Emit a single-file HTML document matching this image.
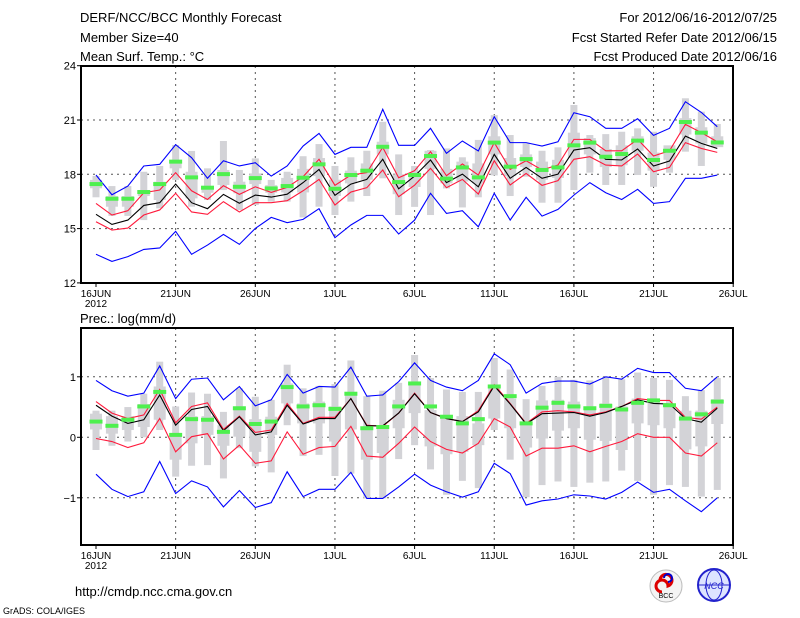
<!DOCTYPE html>
<html><head><meta charset="utf-8"><style>
body{margin:0;background:#fff;width:800px;height:618px;overflow:hidden}
svg{display:block}
text{font-family:"Liberation Sans",sans-serif;fill:#000}
</style></head><body>
<svg id="c" width="800" height="618">
<g>
<text x="80" y="22" font-size="13">DERF/NCC/BCC Monthly Forecast</text>
<text x="80" y="42" font-size="13">Member Size=40</text>
<text x="80" y="61" font-size="13">Mean Surf. Temp.: °C</text>
<text x="777" y="22" font-size="13" text-anchor="end">For 2012/06/16-2012/07/25</text>
<text x="777" y="42" font-size="13" text-anchor="end">Fcst Started Refer Date 2012/06/15</text>
<text x="777" y="61" font-size="13" text-anchor="end">Fcst Produced Date 2012/06/16</text>
</g>
<text x="80" y="323" font-size="13">Prec.: log(mm/d)</text>
<text x="75" y="596" font-size="13">http://cmdp.ncc.cma.gov.cn</text>
<text x="3" y="614" font-size="9">GrADS: COLA/IGES</text>
<g><circle cx="666" cy="586" r="16" fill="#f4f4f4" stroke="#bbb"/><path d="M660 580 a6 6 0 1 1 8 6 a6 6 0 1 0 -6 6" fill="none" stroke="#d00" stroke-width="3"/><path d="M664 578 a4 4 0 1 1 4 4" fill="none" stroke="#00c" stroke-width="2"/><text x="666" y="598" font-size="7" text-anchor="middle">BCC</text></g>
<g><circle cx="714" cy="585" r="16" fill="#dde4ff" stroke="#22c" stroke-width="2"/><ellipse cx="714" cy="585" rx="8" ry="15" fill="none" stroke="#22c"/><line x1="698" y1="585" x2="730" y2="585" stroke="#22c"/><text x="714" y="589" font-size="9" text-anchor="middle" fill="#22c" style="fill:#22c;font-style:italic">NCC</text></g>
</svg>
<script>
// ---- temperature data (days 0..39 from 16JUN) ----
const days = Array.from({length:40},(_,i)=>i);
const xTickLabels = ["16JUN","21JUN","26JUN","1JUL","6JUL","11JUL","16JUL","21JUL","26JUL"];
const tTicks = [12,15,18,21,24];
const pTicks = [-1,0,1];
const tMean = [15.79,15.23,15.47,16.28,16.43,17.46,16.43,16.1,16.89,16.4,16.85,16.74,16.9,17.54,18.27,16.84,17.46,17.72,18.83,17.2,17.9,18.79,17.54,18.01,17.31,19.1,17.78,18.38,17.78,18.01,19.34,19.47,18.83,18.79,19.4,18.46,18.73,20.11,19.71,19.43];
const tRedTop = [16.39,15.75,15.99,16.98,17.13,18.09,17.09,16.61,17.37,16.89,17.31,17.0,17.28,17.87,18.83,17.39,17.96,18.09,19.49,17.81,18.2,19.25,17.92,18.57,17.96,19.75,18.27,18.75,18.24,18.51,19.93,19.93,19.3,19.3,19.93,19.01,19.3,20.76,20.3,19.8];
const tRedBot = [15.38,14.92,15.03,15.75,16.03,16.95,15.92,15.79,16.49,15.92,16.43,16.43,16.54,17.09,17.72,16.3,17.02,17.26,18.24,16.76,17.4,18.33,17.26,17.72,16.91,18.75,17.41,18.05,17.39,17.65,18.83,18.97,18.51,18.46,19.12,18.14,18.38,19.75,19.43,19.21];
const tBlueTop = [17.96,16.87,17.35,18.46,18.55,19.64,18.92,17.78,18.75,18.46,18.64,17.9,18.46,19.56,20.26,19.1,19.49,19.49,21.59,19.6,19.6,20.54,19.16,19.84,19.29,21.18,19.75,19.75,19.56,19.8,21.4,21.18,20.54,20.54,21.07,20.15,20.54,22.01,21.42,20.63];
const tBlueBot = [13.58,13.19,13.45,13.85,13.93,14.85,13.58,14.09,14.68,14.13,15.01,15.62,15.33,15.51,16.1,14.5,15.2,15.73,15.73,14.7,15.47,16.95,15.84,15.99,15.1,16.95,15.47,16.73,15.69,16.06,16.85,17.54,16.98,16.61,17.17,16.39,16.49,17.78,17.78,17.96];
const tObs = [17.46,16.65,16.65,17.02,17.46,18.7,17.83,17.26,18.01,17.31,17.79,17.22,17.35,17.81,18.55,17.2,17.96,18.2,19.52,17.57,17.96,19.01,17.76,18.38,17.83,19.75,18.42,18.84,18.24,18.38,19.6,19.75,18.97,19.12,19.86,18.79,19.3,20.89,20.3,19.76];
const tMax = [17.91,17.35,17.35,18.14,18.46,19.62,19.29,18.33,19.84,18.24,18.88,17.69,18.14,19.0,19.67,18.46,18.94,19.3,20.9,19.1,18.46,19.34,19.43,18.94,19.9,21.27,20.17,19.71,19.3,19.49,21.83,20.17,20.22,20.35,20.54,20.35,19.52,22.2,21.46,20.78];
const tMin = [16.73,15.7,15.7,15.47,16.12,17.69,16.21,16.58,17.13,16.03,16.3,16.49,16.49,15.62,16.21,15.75,16.49,16.8,17.78,15.75,16.2,15.75,17.22,16.17,16.73,17.94,16.8,17.87,16.43,16.43,17.13,18.09,17.41,17.41,17.96,17.31,18.09,19.25,18.46,19.86];
const tQ3 = [17.69,16.8,16.8,17.13,17.59,18.79,18.14,17.31,18.24,17.59,18.05,17.4,17.8,18.3,18.9,17.7,18.2,18.6,19.8,18.0,18.1,19.3,18.3,18.7,18.6,20.1,18.9,19.1,18.7,18.8,20.3,20.0,19.4,19.6,20.1,19.2,19.6,21.1,20.6,20.1];
const tQ1 = [17.23,16.21,16.21,16.8,16.58,18.33,16.67,16.98,17.41,16.95,17.46,16.98,17.0,17.0,17.9,16.8,17.5,17.7,19.1,16.9,17.3,18.3,17.5,17.6,17.5,19.1,17.9,18.4,17.7,17.8,18.9,19.1,18.4,18.5,19.3,18.2,18.8,20.2,19.7,19.5];
// ---- precipitation data ----
const pMean = [0.53,0.35,0.23,0.29,0.70,0.20,0.46,0.51,0.11,0.34,0.04,0.09,0.53,0.22,0.31,0.31,0.64,0.19,0.19,0.40,0.72,0.41,0.31,0.26,0.42,0.85,0.55,0.22,0.39,0.40,0.41,0.35,0.41,0.51,0.62,0.56,0.55,0.31,0.25,0.48];
const pRedTop = [0.59,0.40,0.31,0.37,0.79,0.24,0.51,0.57,0.13,0.35,0.08,0.12,0.56,0.23,0.33,0.33,0.64,0.20,0.18,0.40,0.73,0.41,0.31,0.26,0.44,0.87,0.56,0.23,0.42,0.44,0.42,0.37,0.42,0.51,0.64,0.61,0.61,0.33,0.30,0.50];
const pRedBot = [-0.02,-0.07,-0.17,-0.09,0.31,-0.24,0.01,0.06,-0.36,-0.13,-0.43,-0.39,0.09,-0.28,-0.17,-0.15,0.18,-0.31,-0.33,-0.1,0.17,-0.07,-0.20,-0.26,-0.10,0.31,0.17,-0.31,-0.18,-0.18,-0.14,-0.24,-0.15,-0.07,0.06,0.0,0.0,-0.26,-0.31,-0.09];
const pBlueTop = [0.94,0.77,0.68,0.73,1.18,0.64,0.96,0.98,0.62,0.84,0.52,0.62,1.04,0.73,0.84,0.83,1.16,0.68,0.70,0.92,1.23,0.94,0.83,0.77,0.94,1.38,1.20,0.73,0.89,0.93,0.93,0.88,1.0,0.96,1.14,1.07,1.07,0.81,0.77,1.0];
const pBlueBot = [-0.61,-0.86,-0.98,-0.90,-0.40,-0.93,-0.72,-0.82,-1.15,-0.88,-1.16,-1.08,-0.57,-0.98,-0.86,-0.86,-0.58,-1.01,-1.01,-0.82,-0.61,-0.79,-0.90,-0.99,-0.90,-0.43,-0.60,-1.12,-1.05,-1.02,-0.95,-0.97,-1.02,-0.91,-0.74,-0.91,-0.86,-1.05,-1.23,-1.0];
const pObs = [0.26,0.19,0.29,0.51,0.75,0.04,0.30,0.29,0.09,0.48,0.22,0.26,0.83,0.51,0.53,0.47,0.72,0.15,0.17,0.51,0.89,0.51,0.34,0.23,0.30,0.84,0.68,0.23,0.49,0.57,0.51,0.48,0.52,0.46,0.57,0.61,0.53,0.31,0.38,0.59];
const pMax = [0.44,0.44,0.50,0.72,1.25,0.51,0.74,0.72,0.42,0.81,0.67,0.62,1.20,0.81,0.85,0.88,1.27,0.68,0.77,0.90,1.36,0.98,0.79,0.75,0.75,1.31,1.12,0.63,0.85,1.0,0.95,0.94,1.0,0.96,1.07,0.98,0.95,0.68,0.78,0.98];
const pMin = [-0.21,-0.14,-0.07,0.0,0.12,-0.65,-0.47,-0.46,-0.68,-0.18,-0.48,-0.58,0.20,-0.31,-0.29,-0.64,-0.60,-1.01,-1.01,-0.36,-0.13,-0.53,-0.95,-0.72,-0.84,0.12,-0.37,-0.99,-0.79,-0.73,-0.82,-0.75,-0.73,-0.55,-0.72,-0.95,-0.79,-0.82,-0.98,-0.87];
const pQ3 = [0.39,0.35,0.35,0.55,0.84,0.07,0.35,0.35,0.20,0.51,0.30,0.34,0.89,0.56,0.59,0.51,0.75,0.17,0.17,0.62,0.87,0.45,0.34,0.35,0.23,0.84,0.64,0.23,0.61,0.62,0.59,0.51,0.56,0.51,0.64,0.62,0.53,0.44,0.44,0.63];
const pQ1 = [0.13,0.06,0.12,0.17,0.29,-0.37,-0.10,0.04,-0.14,0.01,-0.24,0.04,0.56,0.23,0.23,-0.07,0.13,-0.37,-0.26,0.15,0.40,-0.15,-0.28,-0.24,-0.13,0.31,0.15,-0.17,-0.02,0.11,0.15,-0.04,-0.06,-0.21,0.23,0.20,0.15,-0.20,-0.15,0.22];

const NS="http://www.w3.org/2000/svg";
const svg=document.getElementById('c');
const x=d=>96+15.93*d;
function mk(tag,attrs,parent){const e=document.createElementNS(NS,tag);for(const k in attrs)e.setAttribute(k,attrs[k]);(parent||svg).appendChild(e);return e;}

function panel(name,top,bot,y,ticks,tickFmt,S){
  const g=mk('g',{});
  
  
  // grid
  ticks.forEach(t=>{const yy=y(t);if(yy>top+2&&yy<bot-2){const l=mk('line',{x1:81,x2:733,y1:yy,y2:yy,stroke:'#555','stroke-dasharray':'2,4','stroke-width':1},g);
    
    }
    const tl=mk('text',{x:76,y:yy+4,'font-size':11,'text-anchor':'end'},g);tl.textContent=tickFmt(t);
    
    
    mk('line',{x1:77,x2:81,y1:yy,y2:yy,stroke:'#000'},g);});
  xTickLabels.forEach((lab,i)=>{const xx=x(i*5);
    if(i>0&&i<8){const l=mk('line',{x1:xx,x2:xx,y1:top,y2:bot,stroke:'#555','stroke-dasharray':'2,4'},g);
      
      }
    mk('line',{x1:xx,x2:xx,y1:bot,y2:bot+4,stroke:'#000'},g);
    const tl=mk('text',{x:xx,y:bot+14,'font-size':10,'text-anchor':'middle'},g);tl.textContent=lab;
    
    });
  const yr=mk('text',{x:x(0),y:bot+24,'font-size':10,'text-anchor':'middle'},g);yr.textContent='2012';
  
  
  // boxes
  days.forEach(d=>{
    const w=mk('rect',{x:x(d)-3.5,y:y(S.max[d]),width:7,height:Math.max(1,y(S.min[d])-y(S.max[d])),fill:'#d3d3d7'},g);
    
    
    const b=mk('rect',{x:x(d)-6,y:y(S.q3[d]),width:12,height:Math.max(1,y(S.q1[d])-y(S.q3[d])),fill:'#d3d3d7'},g);
    
    
  });
  const line=(arr,col,nm)=>{const p=mk('polyline',{points:arr.map((v,d)=>x(d)+','+y(v)).join(' '),fill:'none',stroke:col,'stroke-width':1.1},g);
    
    };
  line(S.bt,'#0000ff','blue-upper-line');line(S.bb,'#0000ff','blue-lower-line');
  line(S.rt,'#ff1a3c','red-upper-line');line(S.rb,'#ff1a3c','red-lower-line');
  line(S.mean,'#000','ensemble-mean-line');
  days.forEach(d=>{const r=mk('rect',{x:x(d)-6.5,y:y(S.obs[d])-2,width:13,height:4,fill:'#4ef04e'},g);
    
    });
  const f=mk('rect',{x:81,y:top,width:652,height:bot-top,fill:'none',stroke:'#000','stroke-width':2},g);
  
  
}
const yT=v=>65.7+(24-v)*18.1;
const yP=v=>437.3-60.5*v;
panel('temperature-panel',66,283,yT,tTicks,t=>String(t),{mean:tMean,rt:tRedTop,rb:tRedBot,bt:tBlueTop,bb:tBlueBot,obs:tObs,max:tMax,min:tMin,q3:tQ3,q1:tQ1});
panel('precip-panel',328,545,yP,pTicks,t=>t<0?'−'+(-t):String(t),{mean:pMean,rt:pRedTop,rb:pRedBot,bt:pBlueTop,bb:pBlueBot,obs:pObs,max:pMax,min:pMin,q3:pQ3,q1:pQ1});
</script>
</body></html>
